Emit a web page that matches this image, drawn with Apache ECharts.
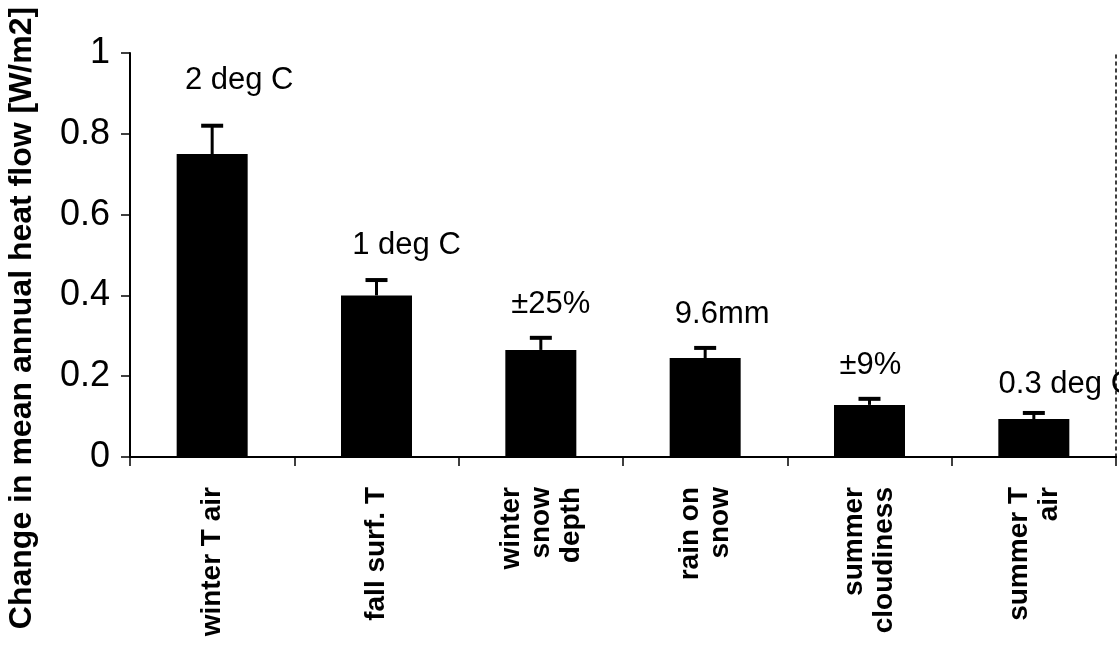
<!DOCTYPE html>
<html>
<head>
<meta charset="utf-8">
<script src="https://cdn.jsdelivr.net/npm/echarts@6/dist/echarts.min.js"></script>
<style>
html,body{margin:0;padding:0;background:#fff;}
#chart{width:1119px;height:645px;}
</style>
</head>
<body>
<div id="chart"></div>
<script>
// ---- data ----
const categories = ['winter T air', 'fall surf. T', 'winter\nsnow\ndepth', 'rain on\nsnow', 'summer\ncloudiness', 'summer T\nair'];
const values = [0.75, 0.40, 0.265, 0.245, 0.129, 0.094];
const errorTops = [0.82, 0.438, 0.295, 0.27, 0.144, 0.109];
const annotations = ['2 deg C', '1 deg C', '\u00B125%', '9.6mm', '\u00B19%', '0.3 deg C'];
const yTickLabels = ['0', '0.2', '0.4', '0.6', '0.8', '1'];

// ---- label layout (style, not data) ----
const labelDistance = [58, 34, 30, 28, 24, 19];
const labelOffsetX = [27, 30, 10, 17, 1, 32];

const FONT = '"Liberation Sans", Arial, Helvetica, sans-serif';
const chart = echarts.init(document.getElementById('chart'));

const barData = values.map((v, i) => ({
  value: v,
  label: { distance: labelDistance[i], offset: [labelOffsetX[i], 0] }
}));
const errData = values.map((v, i) => [i, v, errorTops[i]]);

chart.setOption({
  backgroundColor: '#fff',
  animation: false,
  grid: { left: 130, right: 3, top: 53, bottom: 188, containLabel: false },
  xAxis: [{
    type: 'category',
    data: categories,
    boundaryGap: true,
    axisLine: { show: true, lineStyle: { color: '#000', width: 2 } },
    axisTick: { show: true, length: 9, lineStyle: { color: '#000', width: 1.5 } },
    axisLabel: {
      rotate: 90, interval: 0, margin: 30,
      fontFamily: FONT, fontSize: 28, fontWeight: 'bold', color: '#000', lineHeight: 30
    },
    splitLine: { show: false }
  }, {
    type: 'category',
    position: 'top',
    data: categories,
    axisLine: { show: true, lineStyle: { color: '#000', width: 2 } },
    axisTick: { show: false },
    axisLabel: { show: false }
  }],
  yAxis: [{
    type: 'value',
    min: 0, max: 1, interval: 0.2,
    axisLine: { show: true, lineStyle: { color: '#000', width: 2 } },
    axisTick: { show: true, length: 9, lineStyle: { color: '#000', width: 1.5 } },
    axisLabel: {
      margin: 20, fontFamily: FONT, fontSize: 36, color: '#000',
      formatter: (v) => yTickLabels[Math.round(v / 0.2)]
    },
    splitLine: { show: false }
  }, {
    type: 'value',
    position: 'right',
    min: 0, max: 1, interval: 0.2,
    axisLine: { show: true, lineStyle: { color: '#000', width: 1.5, type: [3, 4] } },
    axisTick: { show: false },
    axisLabel: { show: false },
    splitLine: { show: false }
  }],
  graphic: [{
    type: 'text',
    x: 22, y: 318,
    rotation: Math.PI / 2,
    style: {
      text: 'Change in mean annual heat flow [W/m2]',
      fontFamily: FONT, fontSize: 32, fontWeight: 'bold', fill: '#000',
      align: 'center', verticalAlign: 'middle'
    }
  }],
  series: [{
    type: 'bar',
    data: barData,
    barWidth: 71,
    itemStyle: { color: '#000' },
    label: {
      show: true, position: 'top',
      fontFamily: FONT, fontSize: 31, color: '#000',
      formatter: (p) => annotations[p.dataIndex]
    },
    z: 2
  }, {
    type: 'custom',
    data: errData,
    z: 3,
    renderItem: function (params, api) {
      const i = api.value(0);
      const p0 = api.coord([i, api.value(1)]);
      const p1 = api.coord([i, api.value(2)]);
      const cap = 11;
      return {
        type: 'group',
        children: [{
          type: 'line',
          shape: { x1: p0[0], y1: p0[1], x2: p1[0], y2: p1[1] },
          style: { stroke: '#000', lineWidth: 3 }
        }, {
          type: 'line',
          shape: { x1: p1[0] - cap, y1: p1[1], x2: p1[0] + cap, y2: p1[1] },
          style: { stroke: '#000', lineWidth: 4 }
        }]
      };
    }
  }]
});
</script>
</body>
</html>
